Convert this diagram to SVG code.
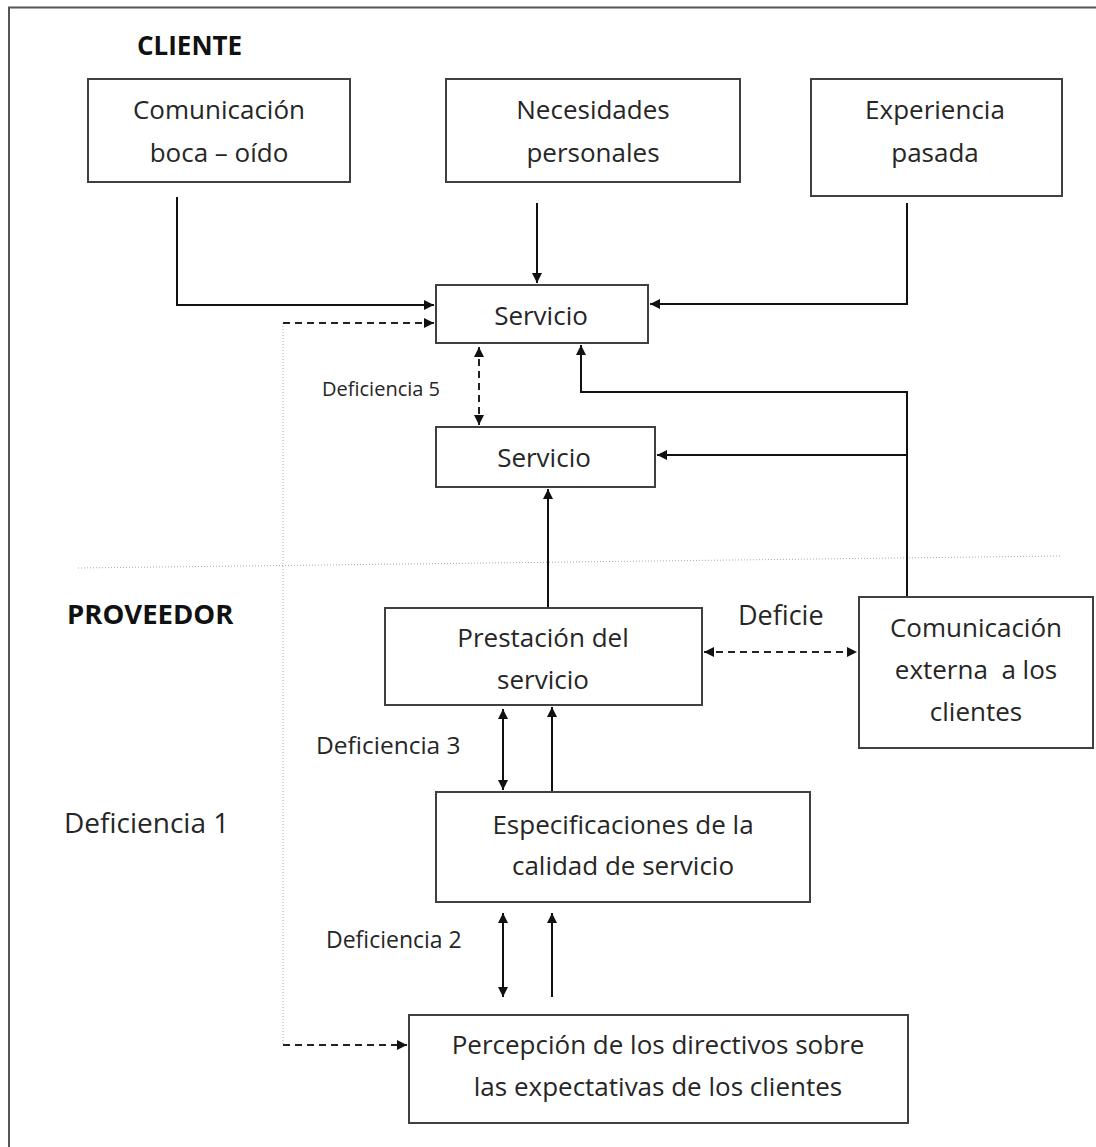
<svg xmlns="http://www.w3.org/2000/svg" width="1096" height="1147" viewBox="0 0 1096 1147">
<style>
.box{fill:#fff;stroke:#404040;stroke-width:2}
.t{font-family:"Open Sans","DejaVu Sans",sans-serif;font-size:26px;fill:#262626;text-anchor:middle}
.b{font-family:"Open Sans","DejaVu Sans",sans-serif;font-weight:bold;fill:#111}
.lbl{font-family:"Open Sans","DejaVu Sans",sans-serif;fill:#262626}
.c{fill:none;stroke:#111;stroke-width:2}
.d{fill:none;stroke:#222;stroke-width:2;stroke-dasharray:7 5}
.dot{fill:none;stroke:#aaa;stroke-width:1;stroke-dasharray:1 2}
</style>
<defs>
<marker id="ah" viewBox="0 0 10 10" refX="10" refY="5" markerWidth="5" markerHeight="5" orient="auto-start-reverse" markerUnits="strokeWidth">
<path d="M0,0 L10,5 L0,10 z" fill="#111"/>
</marker>
</defs>
<rect width="1096" height="1147" fill="#fff"/>
<path d="M9,1147 V7.5 H1096" fill="none" stroke="#555" stroke-width="2"/>
<text class="b" x="137" y="55" font-size="26">CLIENTE</text>
<text class="b" x="67" y="624" font-size="27.5">PROVEEDOR</text>
<g id="connectors">
<line class="dot" x1="78" y1="568" x2="1062" y2="556"/>
<line class="dot" x1="283" y1="323" x2="283" y2="1045"/>
<path class="c" d="M177,197 V305 H434" marker-end="url(#ah)"/>
<path class="d" d="M283,323 H434" marker-end="url(#ah)"/>
<path class="c" d="M537,203 V283" marker-end="url(#ah)"/>
<path class="c" d="M907,203 V304 H650" marker-end="url(#ah)"/>
<path class="c" d="M907,597 V392 H581 V345" marker-end="url(#ah)"/>
<path class="c" d="M907,455 H657" marker-end="url(#ah)"/>
<path class="d" d="M479,347 V425" marker-start="url(#ah)" marker-end="url(#ah)"/>
<path class="c" d="M548,608 V489" marker-end="url(#ah)"/>
<path class="d" d="M704,652 H857" marker-start="url(#ah)" marker-end="url(#ah)"/>
<path class="c" d="M503,709 V790" marker-start="url(#ah)" marker-end="url(#ah)"/>
<path class="c" d="M552,792 V707" marker-end="url(#ah)"/>
<path class="c" d="M503,913 V997" marker-start="url(#ah)" marker-end="url(#ah)"/>
<path class="c" d="M552,997 V913" marker-end="url(#ah)"/>
<path class="d" d="M283,1045 H407" marker-end="url(#ah)"/>
</g>
<g id="n-boca">
<rect class="box" x="88" y="79" width="262" height="103"/>
<text class="t" x="219" y="119">Comunicación</text>
<text class="t" x="219" y="162">boca – oído</text>
</g>
<g id="n-necesidades">
<rect class="box" x="446" y="79" width="294" height="103"/>
<text class="t" x="593" y="119">Necesidades</text>
<text class="t" x="593" y="162">personales</text>
</g>
<g id="n-experiencia">
<rect class="box" x="811" y="79" width="251" height="117"/>
<text class="t" x="935" y="119">Experiencia</text>
<text class="t" x="935" y="162">pasada</text>
</g>
<g id="n-servicio1">
<rect class="box" x="436" y="285" width="212" height="58"/>
<text class="t" x="541" y="325">Servicio</text>
</g>
<g id="n-servicio2">
<rect class="box" x="436" y="427" width="219" height="60"/>
<text class="t" x="544" y="467">Servicio</text>
</g>
<g id="n-prestacion">
<rect class="box" x="385" y="608" width="317" height="97"/>
<text class="t" x="543" y="647">Prestación del</text>
<text class="t" x="543" y="689">servicio</text>
</g>
<g id="n-comext">
<rect class="box" x="859" y="597" width="234" height="151"/>
<text class="t" x="976" y="637">Comunicación</text>
<text class="t" x="976" y="679" xml:space="preserve">externa  a los</text>
<text class="t" x="976" y="721">clientes</text>
</g>
<g id="n-especificaciones">
<rect class="box" x="436" y="792" width="374" height="110"/>
<text class="t" x="623" y="834">Especificaciones de la</text>
<text class="t" x="623" y="875">calidad de servicio</text>
</g>
<g id="n-percepcion">
<rect class="box" x="409" y="1015" width="499" height="108"/>
<text class="t" x="658" y="1054">Percepción de los directivos sobre</text>
<text class="t" x="658" y="1096">las expectativas de los clientes</text>
</g>
<text class="lbl" x="322" y="396" font-size="20">Deficiencia 5</text>
<text class="lbl" x="738" y="625" font-size="27">Deficie</text>
<text class="lbl" x="316" y="754" font-size="24.5">Deficiencia 3</text>
<text class="lbl" x="64" y="833" font-size="28">Deficiencia 1</text>
<text class="lbl" x="326" y="948" font-size="23">Deficiencia 2</text>
</svg>
